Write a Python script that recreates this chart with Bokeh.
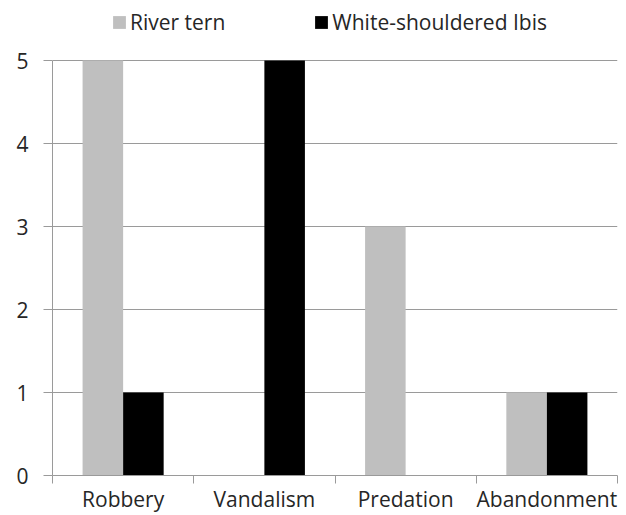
import numpy as np
from bokeh.plotting import figure
from bokeh.models import ColumnDataSource, Range1d, FixedTicker, Legend, LegendItem
from bokeh.transform import dodge
from bokeh.embed import file_html
from bokeh.resources import INLINE

categories = ["Robbery", "Vandalism", "Predation", "Abandonment"]
river_tern = [5, 0, 3, 1]
white_shouldered_ibis = [1, 5, 0, 1]
series_names = ["River tern", "White-shouldered Ibis"]
y_ticks = [0, 1, 2, 3, 4, 5]
y_max = 5

FONT = "Open Sans"
TXT = "#262626"
GRID = "#9a9a9a"

centers = np.arange(len(categories)) + 0.5
src = ColumnDataSource(dict(x=centers, rt=river_tern, wi=white_shouldered_ibis))

# frame spans the full height above the x axis; extra headroom holds the legend
headroom = 60 / 83.0
p = figure(width=626, height=515, output_backend="svg", toolbar_location=None,
           x_range=Range1d(0, len(categories)), y_range=Range1d(0, y_max + headroom),
           min_border_left=52, min_border_right=9, min_border_top=0, min_border_bottom=40)
p.outline_line_color = None
p.background_fill_color = "white"
p.border_fill_color = "white"

bw = 0.287
r1 = p.vbar(x=dodge("x", -bw / 2, range=p.x_range), top="rt", width=bw, source=src,
            fill_color="#bfbfbf", line_color=None)
r2 = p.vbar(x=dodge("x", bw / 2, range=p.x_range), top="wi", width=bw, source=src,
            fill_color="#000000", line_color=None)

# x axis
xa = p.xaxis[0]
xa.ticker = FixedTicker(ticks=list(centers), minor_ticks=list(range(len(categories) + 1)))
xa.major_label_overrides = {float(c): name for c, name in zip(centers, categories)}
xa.major_tick_out = 0
xa.major_tick_in = 0
xa.minor_tick_out = 8
xa.minor_tick_in = 0
xa.minor_tick_line_color = GRID
xa.axis_line_color = GRID
xa.major_label_text_font = FONT
xa.major_label_text_font_size = "21px"
xa.major_label_text_color = TXT
xa.major_label_standoff = 1

# y axis
ya = p.yaxis[0]
ya.ticker = FixedTicker(ticks=y_ticks, minor_ticks=[])
ya.bounds = (0, y_max)
ya.major_tick_out = 9
ya.major_tick_in = 0
ya.major_tick_line_color = GRID
ya.axis_line_color = GRID
ya.major_label_text_font = FONT
ya.major_label_text_font_size = "21px"
ya.major_label_text_color = TXT
ya.major_label_standoff = 15

p.xgrid.grid_line_color = None
p.ygrid.grid_line_color = GRID
p.ygrid.grid_line_width = 1

legend = Legend(items=[LegendItem(label=series_names[0], renderers=[r1]),
                       LegendItem(label=series_names[1], renderers=[r2])],
                orientation="horizontal", location=(59, 439),
                glyph_width=16, glyph_height=16, spacing=88, label_standoff=3,
                padding=0, margin=0, border_line_color=None, background_fill_alpha=0,
                label_text_font=FONT, label_text_font_size="21px", label_text_color=TXT)
p.add_layout(legend)

open("out.html", "w").write(file_html(p, INLINE))
